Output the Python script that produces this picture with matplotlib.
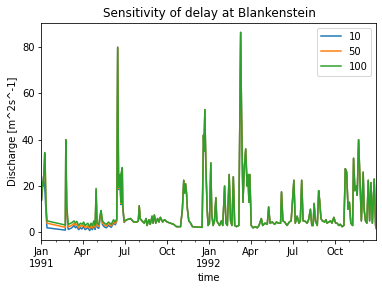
import numpy as np
import pandas as pd
import matplotlib
matplotlib.use('Agg')
import matplotlib.pyplot as plt
import matplotlib.dates as mdates
from matplotlib.ticker import FuncFormatter

# days since 1991-01-01
day_early = [0, 2, 4, 7, 8, 10, 12, 52, 53, 55, 58, 59, 66, 71, 74, 77, 81, 85,
             88, 92, 95, 101, 105, 108, 111, 114, 117, 119, 121, 125, 128, 130,
             133, 137, 141, 146, 152, 157, 161, 164, 166, 168, 171, 173, 174,
             176, 177, 180]
day_tail = [186, 194, 201, 208, 211, 213, 215, 219, 224, 228, 230, 234, 237,
            241, 243, 246, 249, 253, 256, 259, 264, 268, 274, 281, 288, 294,
            303, 307, 310, 312, 314, 316, 318, 321, 325, 329, 339, 350, 353,
            354, 356, 358, 361, 363, 366, 369, 371, 374, 377, 380, 382, 385,
            388, 392, 395, 399, 402, 405, 409, 412, 415, 418, 421, 425, 430,
            434, 436, 439, 442, 445, 448, 450, 452, 454, 457, 461, 466, 470,
            474, 479, 482, 487, 492, 495, 498, 503, 508, 512, 516, 521, 523,
            526, 530, 535, 540, 544, 550, 553, 557, 561, 564, 567, 570, 573,
            579, 582, 586, 589, 592, 594, 597, 601, 604, 606, 609, 612, 617,
            620, 622, 626, 630, 633, 637, 641, 644, 648, 651, 655, 659, 662,
            665, 668, 671, 674, 678, 680, 683, 686, 688, 691, 694, 697, 701,
            703, 706, 709, 712, 715, 718, 721, 725, 728, 729, 730]

# delay 10 / 50 / 100 differ only in the first half of 1991
q10_early = [14, 18, 24, 20, 16, 8, 2, 1.0, 39, 10, 1.5, 1.3, 2, 3, 2, 2.5, 1.2,
             2, 1.5, 2.5, 1.2, 2, 0.8, 2, 1.2, 3, 1.3, 18, 2.2, 1.8, 6.5, 8,
             3.3, 2.4, 2, 3, 2.2, 4, 3.3, 5, 79.5, 18.5, 24, 12, 25, 27.5, 11,
             4.3]
q50_early = [14, 21, 21, 34, 29, 10, 4, 2.2, 40, 11, 2.5, 2.4, 3.1, 4, 3, 3.6,
             2, 3, 2.5, 3.5, 2, 3, 1.6, 3, 2, 4, 2.1, 18.5, 3, 2.6, 7.2, 8.8,
             4.1, 3.2, 2.7, 3.7, 2.8, 4.7, 3.8, 5.2, 79.8, 19, 24.5, 12.5, 25.5,
             27.8, 11.5, 4.6]
q100_early = [14, 22, 20, 34.5, 30, 12, 5, 3.2, 40, 12, 4, 3.5, 4.2, 5, 4, 4.8,
              3, 4, 3.5, 4.5, 3, 4, 2.5, 4, 3, 5, 3, 19, 4, 3.5, 8, 9.5, 5, 4,
              3.5, 4.5, 3.5, 5.5, 4.5, 6, 80, 19.5, 25, 13, 26, 28, 12, 5]
q_tail = [5.5, 6, 4.5, 4.5, 5, 11.5, 6, 5, 4, 6, 3, 5.5, 3.5, 7, 4, 7.5, 4, 6,
          4.5, 6.5, 4.5, 5.5, 4.5, 4, 3.5, 2.5, 2.5, 10, 22.5, 17, 21, 17, 10,
          5, 4, 2.5, 2.3, 2.2, 42, 35, 53, 30, 10, 3, 4, 30, 8, 3, 5, 15, 5, 4,
          3, 5, 3, 20, 4, 3, 25, 5, 3, 24, 3, 2.5, 3, 86.3, 50, 13, 28, 36, 20,
          25, 13, 25, 3, 2, 2.5, 2, 3, 6, 3, 4, 3.5, 11, 4, 4.5, 3.5, 4.5, 4, 4,
          17.5, 5, 4.5, 3, 4.5, 5, 22.5, 4, 7, 4, 5, 22.5, 5, 5, 4, 5.5, 10, 3,
          3, 12.5, 5, 3, 18, 14, 6, 5, 4.5, 5.5, 4, 4.5, 5, 4, 6.5, 4, 4, 3,
          3.5, 2.5, 3, 27.5, 26, 10, 13, 4, 3, 32, 18, 20, 16, 40, 22, 5, 26,
          10, 5, 4, 22.5, 5, 21.5, 4, 23, 3, 2, 1.5]

start = pd.Timestamp('1991-01-01')
time = start + pd.to_timedelta(day_early + day_tail, unit='D')
df = pd.DataFrame({'10': q10_early + q_tail,
                   '50': q50_early + q_tail,
                   '100': q100_early + q_tail}, index=time)
df.index.name = 'time'

fig = plt.figure(figsize=(382 / 72, 290 / 72), dpi=72)
ax = fig.add_axes([0.1086, 0.1707, 0.877, 0.7517])

for col in df.columns:
    ax.plot(df.index, df[col], label=col, lw=1.5)

ax.set_xlim(df.index[0], df.index[-1])
ax.xaxis.set_major_locator(mdates.MonthLocator(bymonth=[1, 4, 7, 10]))
ax.xaxis.set_minor_locator(mdates.MonthLocator())


def fmt(x, pos):
    d = mdates.num2date(x)
    if d.month == 1:
        return d.strftime('%b\n%Y')
    return d.strftime('%b')


ax.xaxis.set_major_formatter(FuncFormatter(fmt))
ax.set_yticks([0, 20, 40, 60, 80])
ax.set_xlabel('time')
ax.set_ylabel('Discharge [m^2s^-1]')
ax.set_title('Sensitivity of delay at Blankenstein')
ax.legend(loc='upper right')

fig.savefig('out.png', dpi=72)
